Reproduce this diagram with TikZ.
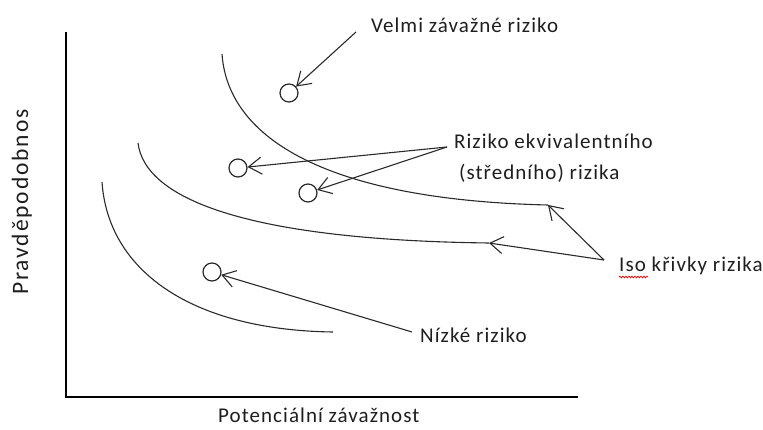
\documentclass[tikz,border=0pt]{standalone}
\usepackage{fontspec}
\setmainfont{Carlito}
\newfontfamily\lblfont[LetterSpace=5]{Carlito}
\newfontfamily\axfont[LetterSpace=8]{Carlito}
\usetikzlibrary{arrows.meta,decorations.pathmorphing}
\definecolor{ink}{HTML}{1E1E1E}
\definecolor{wire}{HTML}{2A2A2A}
\tikzset{
  axis/.style={line width=2.8pt, black},
  isocurve/.style={line width=1.1pt, wire},
  riskpt/.style={circle, draw=wire, line width=1.2pt, minimum size=18pt, inner sep=0pt},
  pointer/.style={line width=1.1pt, wire, -{Straight Barb[length=13pt,width=17pt,line width=1.1pt]}},
  lbl/.style={inner sep=0pt, text=ink, font=\lblfont\fontsize{21}{25}\selectfont, anchor=base west},
  axlbl/.style={inner sep=0pt, text=ink, font=\axfont\fontsize{23.5}{28}\selectfont, anchor=base west},
}
\begin{document}
\begin{tikzpicture}[x=1pt,y=-1pt]
\useasboundingbox (0,0) rectangle (763,430);

% axes
\coordinate (top) at (66,32);
\coordinate (origin) at (66,397);
\coordinate (right) at (578,397);
\draw[axis] (top) -- (origin) -- (right);

% axis titles
\node[axlbl, rotate=90] (ylab) at (28,295) {Pravděpodobnos};
\node[lbl] (xlab) at (218,422) {Potenciální závažnost};

% iso-risk curves
\coordinate (c1s) at (222,54);
\coordinate (c1e) at (548,205);
\coordinate (c2s) at (138,143);
\coordinate (c2e) at (489,243);
\coordinate (c3s) at (102,182);
\coordinate (c3e) at (333,332);
\draw[isocurve] (c1s) .. controls (228,140) and (330,200) .. (c1e);
\draw[isocurve] (c2s) .. controls (145,200) and (250,240) .. (c2e);
\draw[isocurve] (c3s) .. controls (108,270) and (190,330) .. (c3e);

% risk points
\node[riskpt] (p1) at (289,93) {};
\node[riskpt] (p2) at (238,168) {};
\node[riskpt] (p3) at (308,193) {};
\node[riskpt] (p4) at (212,272) {};

% labels
\node[lbl] (high) at (371,33) {Velmi závažné riziko};
\node[lbl] (eq1) at (454,149) {Riziko ekvivalentního};
\node[lbl] (eq2) at (459,180) {(středního) rizika};
\node[lbl] (iso) at (619,272) {Iso křivky rizika};
\node[lbl] (low) at (420,342) {Nízké riziko};

% spelling mark under "Iso"
\coordinate (sq1) at (619,277);
\coordinate (sq2) at (648,277);
\draw[red, line width=0.7pt, decorate, decoration={snake, amplitude=0.9pt, segment length=3pt}] (sq1) -- (sq2);

% pointers
\coordinate (fhigh) at (356,32);
\coordinate (feq) at (447,147);
\coordinate (fiso) at (604,260);
\coordinate (flow) at (412,332);
\draw[pointer] (fhigh) -- (p1);
\draw[pointer] (feq) -- (p2);
\draw[pointer] (feq) -- (p3);
\draw[pointer] (fiso) -- (c1e);
\draw[pointer] (fiso) -- (c2e);
\draw[pointer] (flow) -- (p4);
\end{tikzpicture}
\end{document}
